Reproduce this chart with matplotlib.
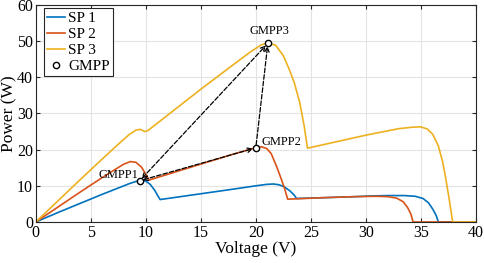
import matplotlib
matplotlib.use("Agg")
import matplotlib.pyplot as plt

plt.rcParams['font.family'] = ['Liberation Serif', 'DejaVu Serif']

# SP 1
v1 = [0, 2, 4, 6, 7.5, 8.5, 9.2, 9.6, 10.0, 10.4, 10.8, 11.1, 11.3,
      15, 18, 20, 21, 21.6, 22.1, 22.6, 23.1, 23.5, 23.7,
      26, 29, 30.5, 32, 33.5, 34.5, 35.2, 35.7, 36.1, 36.4, 36.6, 40]
p1 = [0, 2.6, 5.1, 7.6, 9.4, 10.6, 11.3, 11.5, 11.3, 10.4, 8.8, 7.2, 6.2,
      7.8, 9.1, 10.0, 10.4, 10.5, 10.3, 9.7, 8.6, 7.4, 6.5,
      6.7, 7.0, 7.2, 7.3, 7.3, 7.1, 6.5, 5.3, 3.5, 1.8, 0, 0]

# SP 2
v2 = [0, 2, 4, 6, 7.2, 8.0, 8.6, 9.1, 9.6, 10.0, 10.3,
      15, 18, 19.5, 20.0, 20.5, 21.0, 21.4, 21.9, 22.3, 22.6, 22.9,
      26, 29, 31, 32, 32.8, 33.4, 33.8, 34.1, 34.3, 40]
p2 = [0, 4.1, 8.2, 12.2, 14.5, 16.0, 16.7, 16.5, 15.2, 13.2, 11.6,
      16.0, 18.8, 20.1, 20.5, 20.8, 20.3, 18.9, 15.3, 12.0, 9.4, 6.3,
      6.7, 7.0, 7.1, 7.0, 6.6, 5.6, 4.0, 2.2, 0, 0]

# SP 3
v3 = [0, 2, 4, 6, 7.5, 8.5, 9.1, 9.5, 9.9, 10.2,
      15, 18, 19.5, 20.5, 21.1, 21.8, 22.5, 23.0, 23.5, 24.0, 24.4, 24.7,
      30, 33, 34.2, 35.0, 35.6, 36.1, 36.6, 37.0, 37.3, 37.6, 37.9, 40]
p3 = [0, 5.8, 11.6, 17.3, 21.5, 24.2, 25.4, 25.6, 25.0, 25.3,
      36.7, 43.6, 47.0, 49.0, 49.5, 48.9, 46.0, 42.5, 38.5, 33.0, 26.5, 20.4,
      24.0, 25.8, 26.2, 26.3, 25.7, 24.2, 21.0, 16.5, 11.5, 6.0, 0, 0]

# GMPP points
gmpp_v = [9.45, 20.0, 21.1]
gmpp_p = [11.4, 20.5, 49.4]
gmpp_names = ['GMPP1', 'GMPP2', 'GMPP3']

fig = plt.figure(figsize=(4.84, 2.63), dpi=100)
ax = fig.add_axes([0.074, 0.156, 0.909, 0.825])

ax.plot(v1, p1, color='#0072BD', lw=1.2, label='SP 1')
ax.plot(v2, p2, color='#D95319', lw=1.2, label='SP 2')
ax.plot(v3, p3, color='#EDB120', lw=1.2, label='SP 3')

# dashed arrows between the GMPPs
arrows = [(0, 1, '<->'), (1, 2, '->'), (0, 2, '<->')]
for a, b, st in arrows:
    ax.annotate('', xy=(gmpp_v[b], gmpp_p[b]), xytext=(gmpp_v[a], gmpp_p[a]),
                arrowprops=dict(arrowstyle=st, ls='--', color='black', lw=0.9,
                                shrinkA=2, shrinkB=2, mutation_scale=8))

ax.plot(gmpp_v, gmpp_p, 'o', mfc='white', mec='black', ms=4.5, mew=1.0,
        ls='none', label='GMPP', zorder=5)

ax.text(gmpp_v[0] - 0.1, gmpp_p[0] + 1.5, gmpp_names[0], fontsize=9, ha='right', va='center')
ax.text(gmpp_v[1] + 0.5, gmpp_p[1] + 1.5, gmpp_names[1], fontsize=9, ha='left', va='center')
ax.text(gmpp_v[2] + 0.1, gmpp_p[2] + 3.3, gmpp_names[2], fontsize=9, ha='center', va='center')

ax.set_xlim(0, 40)
ax.set_ylim(0, 60)
ax.set_xticks(range(0, 41, 5))
ax.set_yticks(range(0, 61, 10))
ax.set_xlabel('Voltage (V)', fontsize=12.5, labelpad=0)
ax.set_ylabel('Power (W)', fontsize=12.5, labelpad=0)
ax.tick_params(direction='in', top=True, right=True, labelsize=11.5, length=3,
               color='#262626', pad=2)
ax.grid(True, color='#e3e3e3', lw=0.8)
ax.set_axisbelow(True)
for s in ax.spines.values():
    s.set_color('#262626')
    s.set_linewidth(0.8)

leg = ax.legend(loc='upper left', bbox_to_anchor=(0.018, 0.985), fontsize=11,
                handlelength=1.2, handletextpad=0.2, labelspacing=0.15,
                borderpad=0.2, borderaxespad=0.0, fancybox=False, framealpha=1)
leg.get_frame().set_edgecolor('#262626')
leg.get_frame().set_linewidth(0.8)

fig.savefig('out.png', dpi=100)
